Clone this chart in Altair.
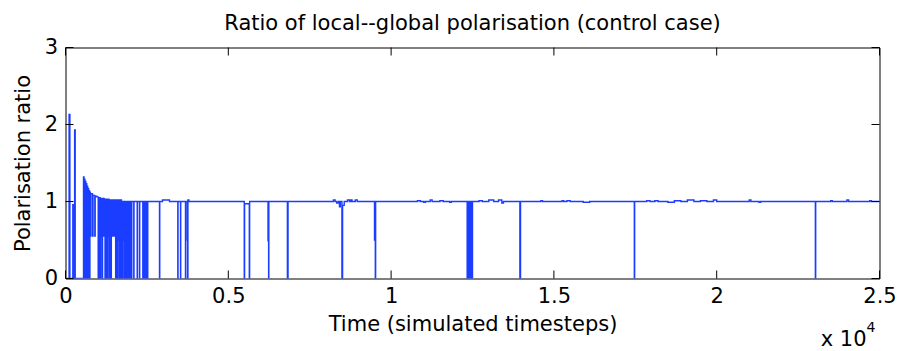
import altair as alt
import pandas as pd

# ---- data (timesteps, ratio), step-after series ----
early_times = [0, 110, 135, 225, 262, 280, 298,
    553, 568, 583, 596, 610, 624, 638, 652, 666, 680, 694, 708, 722, 736, 750, 764, 778,
    830, 845, 900, 912, 960,
    1004, 1018, 1034, 1048, 1064, 1078, 1094, 1108, 1124, 1138, 1154, 1168, 1184, 1198, 1214, 1228,
    1244, 1258, 1274, 1288, 1304, 1318, 1334, 1348, 1364, 1378, 1394, 1408,
    1440, 1452, 1490, 1502,
    1540, 1554, 1570, 1584, 1600, 1614, 1630, 1644, 1660, 1674, 1690, 1704, 1720, 1734, 1750, 1764,
    1780, 1794, 1810, 1824, 1840, 1854, 1870, 1884, 1900, 1915,
    1935, 1950, 1965, 1980, 1996, 2010, 2022, 2036,
    2097, 2104, 2202, 2210, 2273, 2280,
    2374, 2384, 2400, 2412, 2430, 2442, 2460, 2472, 2490, 2502, 2515, 2527,
    2887, 2895, 2979, 3194,
    3449, 3456, 3532, 3539, 3685, 3692, 3740, 3750, 3760, 3790]
early_ratios = [0, 2.13, 0, 0.96, 0, 1.93, 0,
    1.32, 0, 1.29, 0.55, 1.26, 0, 1.23, 0.55, 1.20, 0, 1.17, 0.55, 1.14, 0, 1.12, 0.55, 1.10,
    0.55, 1.08, 0.55, 1.07, 1.06,
    0, 1.05, 0, 1.05, 0, 1.04, 0.55, 1.04, 0, 1.04, 0.55, 1.04, 0.55, 1.03, 0, 1.03,
    0, 1.03, 0, 1.03, 0.55, 1.03, 0, 1.02, 0, 1.02, 0, 1.02,
    0.55, 1.02, 0.55, 1.02,
    0, 1.02, 0, 1.02, 0, 1.02, 0.5, 1.02, 0, 1.02, 0, 1.02, 0, 1.0, 0, 1.0,
    0.5, 1.0, 0, 1.0, 0, 1.0, 0, 1.0, 0, 1.0,
    0, 1.0, 0, 1.0, 0.48, 1.0, 0, 1.0,
    0, 1.0, 0, 1.0, 0, 1.0,
    0, 1.0, 0, 1.0, 0, 1.0, 0, 1.0, 0, 1.0, 0, 1.0,
    0, 1.0, 1.02, 1.0,
    0, 1.0, 0, 1.0, 0, 1.0, 0.5, 0, 1.02, 1.0]

late_times = [5490, 5500, 5645, 5655,
    6220, 6238, 6245, 6815, 6835,
    8230, 8280, 8330, 8380, 8415, 8440, 8490, 8510, 8560, 8660, 8720, 8760, 8800, 8900, 8960,
    9490, 9515, 9525,
    10810, 10900, 11000, 11050, 11200, 11260, 11500, 11600, 11800, 11850,
    12336, 12350, 12365, 12380, 12395, 12410, 12425, 12440, 12455, 12470, 12485, 12500,
    12700, 12800, 13000, 13150, 13300, 13400, 13450,
    13955, 13975,
    14600, 14650, 15250, 15300, 15400, 15500, 15900, 16100,
    17470, 17480,
    17850, 17950, 18100, 18200, 18500, 18700, 18900, 19100, 19300, 19500, 19700, 19900, 20000,
    21000, 21050, 21300, 21350,
    23030, 23040,
    23500, 23550, 24000, 24050, 24700, 24750, 25000]
late_ratios = [0, 0.97, 0, 1.0,
    0.49, 0, 1.0, 0, 1.0,
    1.02, 1.0, 0.98, 1.0, 0.93, 1.0, 0, 0.95, 1.0, 1.02, 1.0, 1.02, 1.0, 1.02, 1.0,
    0.5, 0, 1.0,
    1.01, 1.0, 0.99, 1.0, 1.02, 1.0, 1.01, 1.0, 0.99, 1.0,
    0, 1.0, 0, 1.0, 0, 1.0, 0, 1.0, 0, 1.0, 0, 1.0,
    1.01, 1.0, 1.02, 1.0, 1.02, 0.98, 1.0,
    0, 1.0,
    1.01, 1.0, 1.01, 1.0, 1.01, 1.0, 0.99, 1.0,
    0, 1.0,
    1.01, 1.0, 1.01, 1.0, 0.99, 1.01, 1.0, 1.02, 1.0, 1.01, 1.0, 1.02, 1.0,
    1.02, 1.0, 0.99, 1.0,
    0, 1.0,
    1.01, 1.0, 1.02, 1.0, 1.01, 1.0, 1.0]

x_ticks = [0, 5000, 10000, 15000, 20000, 25000]
y_ticks = [0, 1, 2, 3]

W, H = 814, 231
FONT = "DejaVu Sans"
FS = 21
BLUE = "#1a3dff"

df = pd.DataFrame({"t": early_times + late_times, "r": early_ratios + late_ratios})
xs = alt.Scale(domain=[0, 25000], nice=False, zero=False)
ys = alt.Scale(domain=[0, 3], nice=False)

line = alt.Chart(df).mark_line(interpolate="step-after", color=BLUE, strokeWidth=1.4, clip=True).encode(
    x=alt.X("t:Q", scale=xs, axis=alt.Axis(
        values=x_ticks, labelExpr="datum.value / 10000", ticks=False, domain=False, grid=False,
        labelFlush=False, labelOverlap=False,
        labelFont=FONT, labelFontSize=FS, labelColor="#000", labelPadding=7,
        title="Time (simulated timesteps)", titleFont=FONT, titleFontSize=FS,
        titleFontWeight="normal", titleColor="#000", titlePadding=7)),
    y=alt.Y("r:Q", scale=ys, axis=alt.Axis(
        values=y_ticks, format="d", ticks=False, domain=False, grid=False,
        labelFlush=False,
        labelFont=FONT, labelFontSize=FS, labelColor="#000", labelPadding=8,
        title="Polarisation ratio", titleFont=FONT, titleFontSize=FS,
        titleFontWeight="normal", titleColor="#000", titlePadding=11)),
)

xt = pd.DataFrame({"v": x_ticks})
yt = pd.DataFrame({"v": y_ticks})
tick_style = dict(color="#000", strokeWidth=1)
xb = alt.Chart(xt).mark_rule(**tick_style).encode(x=alt.X("v:Q", scale=xs), y=alt.value(H), y2=alt.value(H - 8))
xtp = alt.Chart(xt).mark_rule(**tick_style).encode(x=alt.X("v:Q", scale=xs), y=alt.value(0), y2=alt.value(8))
yl = alt.Chart(yt).mark_rule(**tick_style).encode(y=alt.Y("v:Q", scale=ys), x=alt.value(0), x2=alt.value(8))
yr = alt.Chart(yt).mark_rule(**tick_style).encode(y=alt.Y("v:Q", scale=ys), x=alt.value(W), x2=alt.value(W - 8))

exp_base = alt.Chart(pd.DataFrame({"s": ["x 10"]})).mark_text(
    font=FONT, fontSize=FS, align="right", baseline="alphabetic", color="#000"
).encode(x=alt.value(W - 13), y=alt.value(H + 67), text="s:N")
exp_pow = alt.Chart(pd.DataFrame({"s": ["4"]})).mark_text(
    font=FONT, fontSize=14, align="left", baseline="alphabetic", color="#000"
).encode(x=alt.value(W - 13), y=alt.value(H + 53), text="s:N")

chart = alt.layer(line, xb, xtp, yl, yr, exp_base, exp_pow).properties(
    width=W, height=H,
    title=alt.TitleParams("Ratio of local--global polarisation (control case)", font=FONT,
                          fontSize=FS, fontWeight="normal", color="#000", offset=3),
    autosize=alt.AutoSizeParams(type="none"),
    padding={"left": 65.5, "top": 47.5, "right": 22.5, "bottom": 72.5},
).configure(background="white").configure_view(stroke="#000", strokeWidth=1)

chart.save("out.html", embed_options={"renderer": "svg", "actions": False})
